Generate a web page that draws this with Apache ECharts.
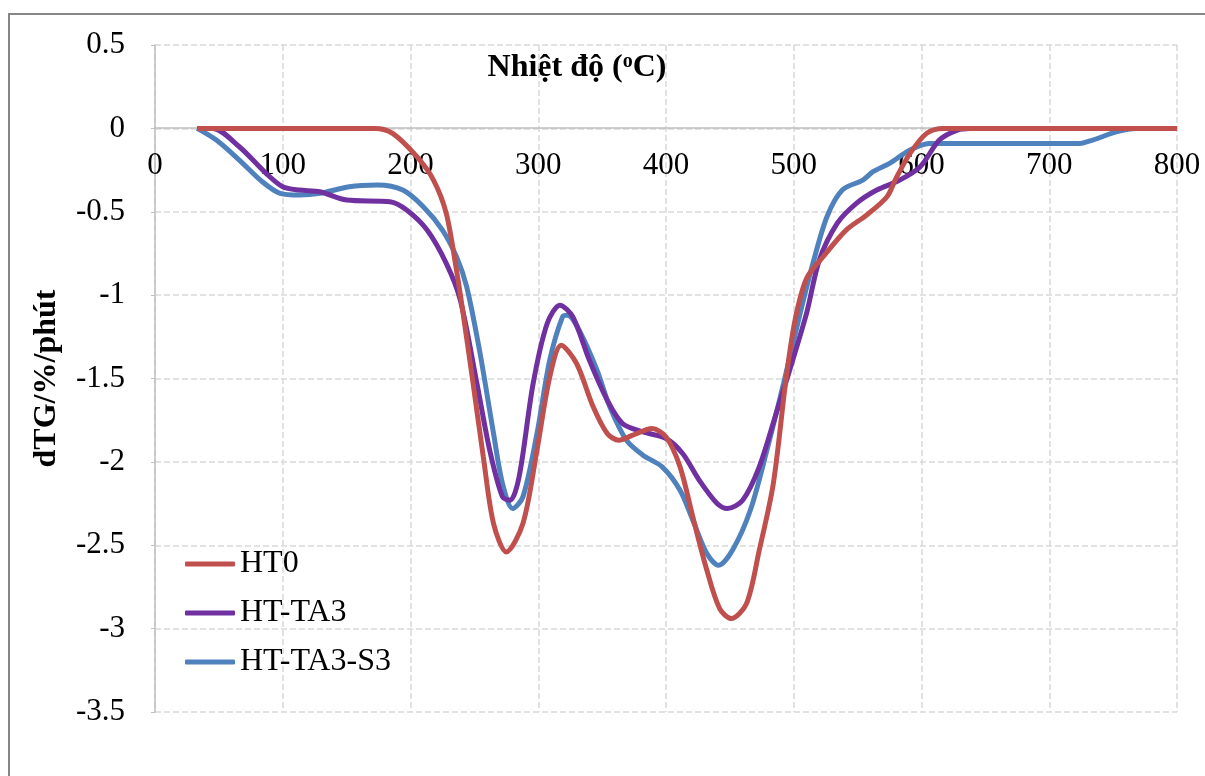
<!DOCTYPE html>
<html>
<head>
<meta charset="utf-8">
<script src="https://cdn.jsdelivr.net/npm/echarts@6/dist/echarts.min.js"></script>
<style>
  html, body { margin: 0; padding: 0; background: #fff; }
  #chart { width: 1205px; height: 776px; }
</style>
</head>
<body>
<div id="chart"></div>
<script>
  // temperatures (°C) and dTG values
  const ht0Temp = [33, 60, 100, 140, 172, 186, 205, 218, 228, 236, 241, 249, 257, 265, 275, 288, 299, 309, 318, 330, 343, 354, 363, 374, 389, 400, 411, 421, 432, 442, 451, 463, 473, 484, 494, 501, 510, 523, 541, 557, 573, 580, 591, 604, 617, 700, 800];
  const ht0Vals = [0, 0, 0, 0, 0, -0.03, -0.17, -0.31, -0.51, -0.85, -1.1, -1.53, -1.97, -2.37, -2.54, -2.37, -1.93, -1.49, -1.3, -1.41, -1.67, -1.83, -1.87, -1.84, -1.8, -1.85, -2.03, -2.33, -2.65, -2.88, -2.94, -2.85, -2.53, -2.13, -1.5, -1.15, -0.9, -0.77, -0.61, -0.52, -0.41, -0.3, -0.15, -0.03, 0, 0, 0];

  const ta3Temp = [33, 45, 66, 87, 100, 113, 129, 150, 184, 197, 213, 228, 239, 252, 262, 272, 278, 285, 296, 307, 317, 327, 340, 354, 366, 382, 400, 413, 426, 440, 448, 460, 473, 487, 496, 510, 520, 534, 549, 565, 583, 599, 614, 628, 638, 700, 800];
  const ta3Vals = [0, 0, -0.11, -0.27, -0.35, -0.37, -0.38, -0.43, -0.44, -0.49, -0.61, -0.81, -1.03, -1.53, -1.93, -2.21, -2.23, -2.09, -1.53, -1.17, -1.06, -1.13, -1.39, -1.63, -1.77, -1.82, -1.86, -1.95, -2.11, -2.25, -2.28, -2.23, -2.03, -1.69, -1.47, -1.11, -0.79, -0.57, -0.45, -0.37, -0.31, -0.23, -0.07, -0.01, 0, 0, 0];

  const s3Temp = [33, 48, 66, 84, 98, 113, 129, 152, 174, 194, 210, 225, 236, 244, 254, 265, 272, 280, 288, 299, 309, 319, 323, 332, 346, 356, 369, 382, 397, 411, 421, 432, 441, 452, 466, 479, 492, 505, 515, 526, 538, 554, 562, 575, 591, 606, 620, 724, 734, 753, 768, 800];
  const s3Vals = [0, -0.07, -0.19, -0.32, -0.39, -0.4, -0.39, -0.35, -0.34, -0.37, -0.47, -0.61, -0.77, -0.95, -1.33, -1.83, -2.13, -2.28, -2.21, -1.83, -1.39, -1.13, -1.12, -1.21, -1.45, -1.67, -1.87, -1.96, -2.03, -2.17, -2.35, -2.55, -2.62, -2.53, -2.29, -1.93, -1.53, -1.11, -0.81, -0.53, -0.37, -0.31, -0.26, -0.21, -0.13, -0.09, -0.09, -0.09, -0.07, -0.02, 0, 0];

  const seriesNames = ['HT0', 'HT-TA3', 'HT-TA3-S3'];
  const seriesColors = ['#c0504d', '#7030a0', '#4f81bd'];

  const zip = (xs, ys) => xs.map((x, i) => [x, ys[i]]);
  const allData = [zip(ht0Temp, ht0Vals), zip(ta3Temp, ta3Vals), zip(s3Temp, s3Vals)];

  const serif = '"Liberation Serif", "Times New Roman", serif';
  const gridLine = { show: true, lineStyle: { color: '#d9d9d9', width: 1.5, type: [6, 3] } };

  const myChart = echarts.init(document.getElementById('chart'));

  let option = {
    animation: false,
    color: seriesColors,
    graphic: [
      {
        type: 'rect',
        shape: { x: 9, y: 14, width: 1300, height: 900 },
        style: { fill: 'none', stroke: '#868686', lineWidth: 2 },
        silent: true,
      },
      {
        type: 'text',
        x: 577,
        y: 68,
        style: {
          text: 'Nhiệt độ ({sup|o}C)',
          fontFamily: serif,
          fontSize: 32,
          fontWeight: 'bold',
          fill: '#000',
          align: 'center',
          verticalAlign: 'middle',
          rich: {
            sup: { fontFamily: serif, fontSize: 20, fontWeight: 'bold', verticalAlign: 'top', padding: [0, 0, 10, 0] },
          },
        },
      },
    ],
    grid: {
      left: 155,
      right: 28,
      top: 45,
      bottom: 64,
    },
    legend: {
      orient: 'vertical',
      left: 180,
      top: 543,
      itemWidth: 50,
      itemHeight: 5,
      itemGap: 17,
      icon: 'roundRect',
      textStyle: { fontFamily: serif, fontSize: 32, color: '#000' },
      data: seriesNames,
    },
    xAxis: {
      type: 'value',
      min: 0,
      max: 800,
      interval: 100,
      // axis sits on the zero line, 584px above the grid bottom
      offset: -584,
      axisLine: { onZero: false, lineStyle: { color: '#bfbfbf', width: 1.5 } },
      axisTick: { show: false },
      axisLabel: { fontFamily: serif, fontSize: 31, color: '#000', margin: 22 },
      splitLine: gridLine,
    },
    yAxis: {
      type: 'value',
      min: -3.5,
      max: 0.5,
      interval: 0.5,
      name: 'dTG/%/phút',
      nameLocation: 'middle',
      nameGap: 92,
      nameTextStyle: { fontFamily: serif, fontSize: 32, fontWeight: 'bold', color: '#000' },
      axisLine: { show: true, lineStyle: { color: '#bfbfbf', width: 1.5 } },
      axisTick: { show: true, length: 4, lineStyle: { color: '#bfbfbf' } },
      axisLabel: { fontFamily: serif, fontSize: 31, color: '#000', margin: 30 },
      splitLine: gridLine,
    },
    series: seriesNames.map((name, i) => ({
      name: name,
      type: 'line',
      data: allData[i],
      smooth: 0.3,
      showSymbol: false,
      lineStyle: { width: 5, color: seriesColors[i] },
      itemStyle: { color: seriesColors[i] },
      z: 3 - i,
    })),
  };

  option && myChart.setOption(option);
  window.addEventListener('resize', () => {
    myChart.resize();
  });
</script>
</body>
</html>
